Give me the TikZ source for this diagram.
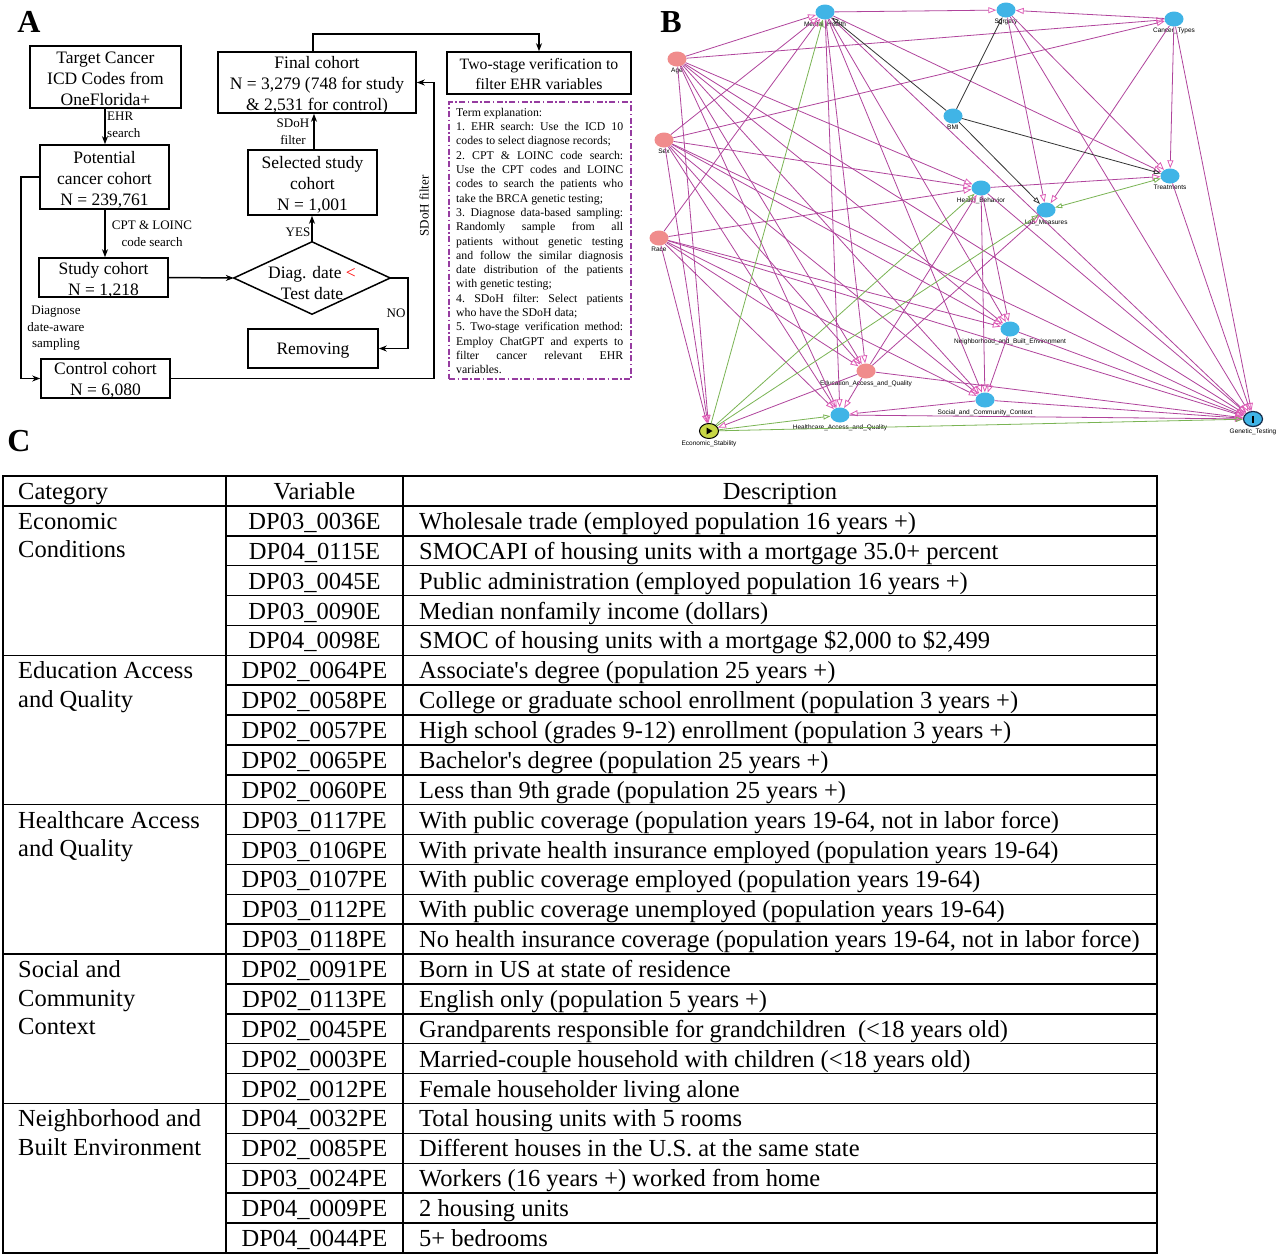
\documentclass[tikz,border=0pt]{standalone}
\usepackage{fontspec}
\setmainfont{Liberation Serif}
\newfontfamily\arialf{Liberation Sans}
\usetikzlibrary{arrows.meta,calc,shapes.geometric}
\definecolor{pe}{RGB}{176,68,156}
\definecolor{pa}{RGB}{222,92,182}
\definecolor{ge}{RGB}{122,180,84}
\definecolor{nb}{RGB}{64,180,230}
\definecolor{np}{RGB}{240,140,140}
\definecolor{ny}{RGB}{200,215,70}
\definecolor{tb}{RGB}{150,60,160}
\newcommand{\tabrow}[3]{%
  \pgfmathsetmacro{\rowyb}{476+#1*29.88+23.5}%
  \node[ttx, anchor=base] (v#1) at (314.5,\rowyb) {#2};%
  \node[ttx, anchor=base west] (d#1) at (419,\rowyb) {#3};}
\begin{document}
\begin{tikzpicture}[x=1pt,y=-1pt,
  box/.style={draw, line width=1.6pt, inner sep=0pt},
  bt/.style={inner sep=0pt, align=center, font=\fontsize{17.5}{21}\selectfont},
  lbl/.style={font=\fontsize{13}{16.5}\selectfont, inner sep=0pt, align=center},
  arr/.style={line width=1.5pt, -{Stealth[length=8pt,width=6pt]}},
  ln/.style={line width=1.5pt},
  plab/.style={font=\bfseries\fontsize{32}{32}\selectfont, inner sep=0pt},
  dnode/.style={ellipse, minimum width=19pt, minimum height=15pt, inner sep=0pt},
  bl/.style={dnode, fill=nb},
  pk/.style={dnode, fill=np},
  nl/.style={font=\arialf\fontsize{6.5}{7}\selectfont, inner sep=0pt},
  pedge/.style={draw=pe, line width=0.8pt, -{Triangle[open,length=8pt,width=6pt,color=pa]}},
  gedge/.style={draw=ge, line width=0.8pt, -{Triangle[open,length=7pt,width=5pt]}},
  kedge/.style={draw=black!80, line width=0.8pt, -{Triangle[open,length=7pt,width=5pt]}},
  tl/.style={line width=1.5pt, line cap=rect},
  ttx/.style={font=\fontsize{24.5}{29}\selectfont, inner sep=0pt}
]
\fill[white] (0,0) rectangle (1280,1256);
\useasboundingbox (0,0) rectangle (1280,1256);

% panel labels
\node[plab] (pA) at (29,22) {A};
\node[plab] (pB) at (671,22) {B};
\node[plab] (pC) at (19,441) {C};

% ---------------- Panel A ----------------
\node[box, minimum width=151pt, minimum height=62pt] (tc) at (105.5,77) {};
\node[bt] (tcT) at (105.5,78.5) {Target Cancer\\ICD Codes from\\OneFlorida+};
\node[box, minimum width=129pt, minimum height=64pt] (pc) at (104.5,177) {};
\node[bt] (pcT) at (104.5,179.5) {Potential\\cancer cohort\\N = 239,761};
\node[box, minimum width=129pt, minimum height=39pt] (sc) at (103.5,277.5) {};
\node[bt] (scT) at (103.5,280.5) {Study cohort\\N = 1,218};
\node[box, minimum width=129pt, minimum height=39pt] (cc) at (105.5,378.5) {};
\node[bt] (ccT) at (105.5,380.5) {Control cohort\\N = 6,080};
\node[minimum width=156pt, minimum height=72pt, inner sep=0pt] (dg) at (312,278) {};
\draw[ln] (dg.west) -- (dg.north) -- (dg.east) -- (dg.south) -- cycle;
\node[bt] (dgT) at (312,283) {Diag. date \textcolor{red}{<}\\Test date};
\node[box, minimum width=129pt, minimum height=65pt] (ss) at (312.5,182.5) {};
\node[bt] (ssT) at (312.5,184.5) {Selected study\\cohort\\N = 1,001};
\node[box, minimum width=198pt, minimum height=61pt] (fc) at (317,82.5) {};
\node[bt] (fcT) at (317,85.5) {Final cohort\\N = 3,279 (748 for study\\\& 2,531 for control)};
\node[box, minimum width=130pt, minimum height=39pt] (rm) at (313,348.5) {};
\node[bt] (rmT) at (313,351) {Removing};
\node[box, minimum width=184pt, minimum height=42pt] (tv) at (539,73) {};
\node[bt, font=\fontsize{15.8}{20}\selectfont] (tvT) at (539,74) {Two-stage verification to\\filter EHR variables};
\node[draw=tb, line width=1.2pt, dash pattern=on 6pt off 2.5pt on 1.5pt off 2.5pt, minimum width=182pt, minimum height=277pt, inner sep=0pt] (te) at (540,240.5) {};
\node[anchor=north west, inner sep=0pt, text width=167pt, align=justify, font=\fontsize{11.8}{14.3}\selectfont] (tx) at (456,108) {\parindent=0pt\frenchspacing Term explanation:\par
1. EHR search: Use the ICD 10\linebreak codes to select diagnose records;\par
2. CPT \& LOINC code search:\linebreak Use the CPT codes and LOINC\linebreak codes to search the patients who\linebreak take the BRCA genetic testing;\par
3. Diagnose data-based sampling:\linebreak Randomly sample from all\linebreak patients without genetic testing\linebreak and follow the similar diagnosis\linebreak date distribution of the patients\linebreak with genetic testing;\par
4. SDoH filter: Select patients\linebreak who have the SDoH data;\par
5. Two-stage verification method:\linebreak Employ ChatGPT and experts to\linebreak filter cancer relevant EHR\linebreak variables.};

\coordinate (k1) at (434,230);
\coordinate (k2) at (420,34);
\draw[arr] (tc.south -| 105,0) -- (pc.north -| 105,0);
\draw[arr] (pc.south -| 105,0) -- (sc.north -| 105,0);
\draw[arr] (sc.east) -- (dg.west);
\draw[arr] (dg.north) -- (ss.south -| dg.north);
\draw[arr] (ss.north -| 314,0) -- (fc.south -| 314,0);
\draw[arr] (dg.east) -- ++(18,0) |- (rm.east);
\draw[arr] (pc.west) -- ++(-18,0) |- (cc.west);
\draw[arr] (cc.east) -| (k1) |- (fc.east);
\draw[arr] (fc.north -| 313,0) |- (k2) -| (tv.north);

\node[lbl, anchor=west, align=left] (l1) at (107,125) {EHR\\search};
\node[lbl] (l2) at (152,233.5) {CPT \& LOINC\\code search};
\node[lbl] (l3) at (56,328.5) {Diagnose\\date-aware\\sampling};
\node[lbl] (l4) at (298,232) {YES};
\node[lbl] (l5) at (396,313) {NO};
\node[lbl] (l6) at (293,132) {SDoH\\filter};
\node[lbl, rotate=90] (l7) at (424,206) {SDoH filter};

% ---------------- Panel B ----------------
\node[bl, label={[nl,label distance=1.5pt]below:Mental\_Health}] (mh) at (825,12) {};
\node[bl, label={[nl,label distance=1.5pt]below:Surgery}] (sur) at (1006,10) {};
\node[bl, label={[nl,label distance=1.5pt]below:Cancer\_Types}] (ct) at (1174,19) {};
\node[pk, label={[nl,label distance=1.5pt]below:Age}] (age) at (677,59) {};
\node[pk, label={[nl,label distance=1.5pt]below:Sex}] (sex) at (664,140) {};
\node[bl, label={[nl,label distance=1.5pt]below:BMI}] (bmi) at (953,116) {};
\node[bl, label={[nl,label distance=1.5pt]below:Treatments}] (tr) at (1170,176) {};
\node[bl, label={[nl,label distance=1.5pt]below:Health\_Behavior}] (hb) at (981,188) {};
\node[bl, label={[nl,label distance=1.5pt]below:Lab\_Measures}] (lab) at (1046,210) {};
\node[pk, label={[nl,label distance=1.5pt]below:Race}] (race) at (659,238) {};
\node[bl, label={[nl,label distance=1.5pt]below:Neighborhood\_and\_Built\_Environment}] (nbe) at (1010,329) {};
\node[pk, label={[nl,label distance=1.5pt]below:Education\_Access\_and\_Quality}] (edu) at (866,371) {};
\node[bl, label={[nl,label distance=1.5pt]below:Social\_and\_Community\_Context}] (scc) at (985,400) {};
\node[bl, label={[nl,label distance=1.5pt]below:Healthcare\_Access\_and\_Quality}] (hcq) at (840,415) {};
\node[dnode, fill=ny, draw=black, line width=1pt, label={[nl,label distance=1.5pt]below:Economic\_Stability}] (es) at (709,431) {};
\node[dnode, fill=nb, draw={rgb,255:red,20;green,40;blue,70}, line width=1.2pt, label={[nl,label distance=1.5pt]below:Genetic\_Testing}] (gt) at (1253,419) {};
\fill ($(es)+(-2.5,-3.5)$) -- ($(es)+(3.5,0)$) -- ($(es)+(-2.5,3.5)$) -- cycle;
\draw[line width=1.4pt] ($(gt)+(0,-3.5)$) -- ($(gt)+(0,3.5)$);

\foreach \a/\b in {age/mh, age/ct, age/es, age/hb, age/edu, age/hcq, age/scc, age/nbe, age/gt,
  sex/mh, sex/ct, sex/hb, sex/es, sex/edu, sex/hcq, sex/scc, sex/nbe, sex/gt,
  race/mh, race/hb, race/es, race/edu, race/hcq, race/scc, race/nbe, race/gt,
  mh/sur, mh/tr, mh/hcq, mh/edu, mh/scc, mh/nbe, mh/gt,
  ct/sur, ct/tr, ct/lab, ct/gt,
  sur/lab, sur/tr, sur/gt,
  hb/tr, hb/scc, hb/nbe, hb/gt,
  edu/hb, edu/lab, edu/hcq, edu/gt, edu/es,
  scc/hcq, scc/gt, nbe/gt, nbe/scc, hcq/gt, tr/gt}
  \draw[pedge] (\a) -- (\b);
\foreach \a/\b in {es/mh, es/hb, es/lab, es/hcq, es/gt}
  \draw[gedge] (\a) -- (\b);
\draw[gedge, {Triangle[open,length=7pt,width=5pt]}-{Triangle[open,length=7pt,width=5pt]}] (lab) -- (tr);
\foreach \a/\b in {bmi/mh, bmi/sur, bmi/tr, bmi/lab}
  \draw[kedge] (\a) -- (\b);

% ---------------- Panel C (table) ----------------
\foreach \k in {2,3,4,5,7,8,9,10,12,13,14,15,17,18,19,20,22,23,24,25}
  \draw[tl] (226,{476+\k*29.88}) -- (1157,{476+\k*29.88});
\foreach \k in {0,1,6,11,16,21,26}
  \draw[tl] (3,{476+\k*29.88}) -- (1157,{476+\k*29.88});
\foreach \xx in {3,226,403,1157}
  \draw[tl] (\xx,476) -- (\xx,1252.88);

\node[ttx, anchor=base west] (hc) at (18,499.5) {Category};
\node[ttx, anchor=base] (hv) at (314.5,499.5) {Variable};
\node[ttx, anchor=base] (hd) at (780,499.5) {Description};

\node[ttx, anchor=base west] (c1a) at (18,529.38) {Economic};
\node[ttx, anchor=base west] (c1b) at (18,557.88) {Conditions};
\node[ttx, anchor=base west] (c2a) at (18,678.78) {Education Access};
\node[ttx, anchor=base west] (c2b) at (18,707.28) {and Quality};
\node[ttx, anchor=base west] (c3a) at (18,828.18) {Healthcare Access};
\node[ttx, anchor=base west] (c3b) at (18,856.68) {and Quality};
\node[ttx, anchor=base west] (c4a) at (18,977.58) {Social and};
\node[ttx, anchor=base west] (c4b) at (18,1006.08) {Community};
\node[ttx, anchor=base west] (c4c) at (18,1034.58) {Context};
\node[ttx, anchor=base west] (c5a) at (18,1126.98) {Neighborhood and};
\node[ttx, anchor=base west] (c5b) at (18,1155.48) {Built Environment};

\tabrow{1}{DP03\_0036E}{Wholesale trade (employed population 16 years +)}
\tabrow{2}{DP04\_0115E}{SMOCAPI of housing units with a mortgage 35.0+ percent}
\tabrow{3}{DP03\_0045E}{Public administration (employed population 16 years +)}
\tabrow{4}{DP03\_0090E}{Median nonfamily income (dollars)}
\tabrow{5}{DP04\_0098E}{SMOC of housing units with a mortgage \$2,000 to \$2,499}
\tabrow{6}{DP02\_0064PE}{Associate\textquotesingle s degree (population 25 years +)}
\tabrow{7}{DP02\_0058PE}{College or graduate school enrollment (population 3 years +)}
\tabrow{8}{DP02\_0057PE}{High school (grades 9-12) enrollment (population 3 years +)}
\tabrow{9}{DP02\_0065PE}{Bachelor\textquotesingle s degree (population 25 years +)}
\tabrow{10}{DP02\_0060PE}{Less than 9th grade (population 25 years +)}
\tabrow{11}{DP03\_0117PE}{With public coverage (population years 19-64, not in labor force)}
\tabrow{12}{DP03\_0106PE}{With private health insurance employed (population years 19-64)}
\tabrow{13}{DP03\_0107PE}{With public coverage employed (population years 19-64)}
\tabrow{14}{DP03\_0112PE}{With public coverage unemployed (population years 19-64)}
\tabrow{15}{DP03\_0118PE}{No health insurance coverage (population years 19-64, not in labor force)}
\tabrow{16}{DP02\_0091PE}{Born in US at state of residence}
\tabrow{17}{DP02\_0113PE}{English only (population 5 years +)}
\tabrow{18}{DP02\_0045PE}{Grandparents responsible for grandchildren~ (<18 years old)}
\tabrow{19}{DP02\_0003PE}{Married-couple household with children (<18 years old)}
\tabrow{20}{DP02\_0012PE}{Female householder living alone}
\tabrow{21}{DP04\_0032PE}{Total housing units with 5 rooms}
\tabrow{22}{DP02\_0085PE}{Different houses in the U.S. at the same state}
\tabrow{23}{DP03\_0024PE}{Workers (16 years +) worked from home}
\tabrow{24}{DP04\_0009PE}{2 housing units}
\tabrow{25}{DP04\_0044PE}{5+ bedrooms}
\end{tikzpicture}
\end{document}
